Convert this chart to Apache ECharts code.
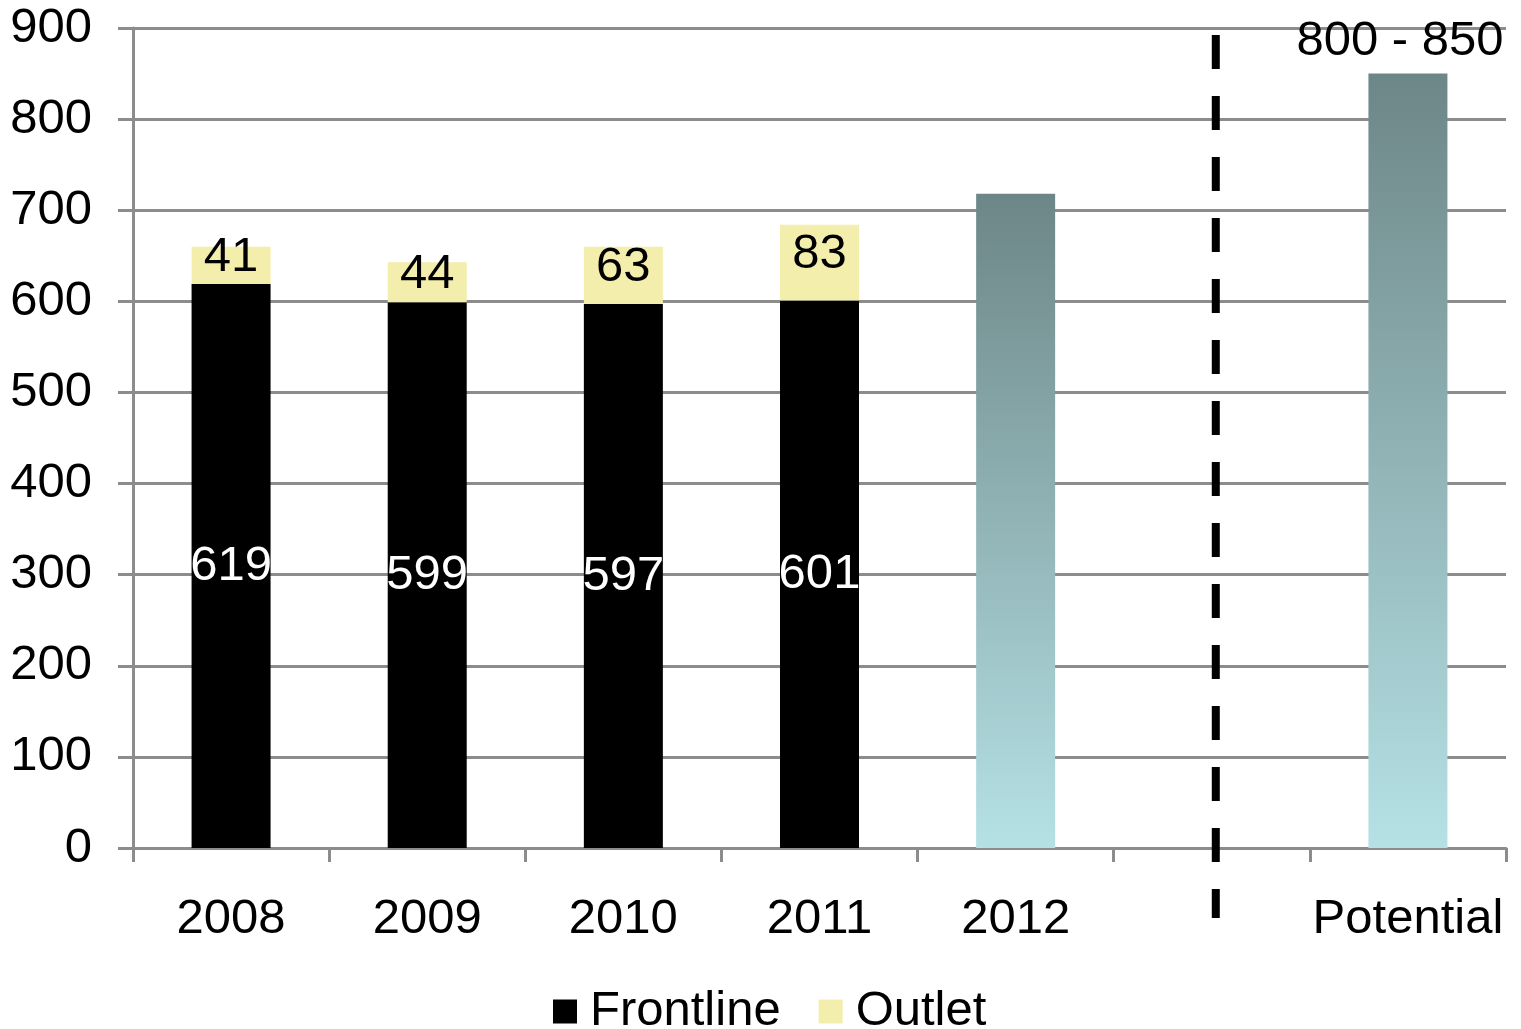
<!DOCTYPE html>
<html>
<head>
<meta charset="utf-8">
<style>html,body{margin:0;padding:0;background:#fff;}#c{width:1521px;height:1029px;}</style>
<script src="https://cdn.jsdelivr.net/npm/echarts@6/dist/echarts.min.js"></script>
</head>
<body>
<div id="c"></div>
<script>
const categories = ['2008', '2009', '2010', '2011', '2012', '', 'Potential'];
const frontline = [619, 599, 597, 601, null, null, null];
const outlet = [41, 44, 63, 83, null, null, null];
const totals = [null, null, null, null, 718, null, 850];
const totalLabels = ['', '', '', '', '', '', '800 - 850'];
const yTicks = [0, 100, 200, 300, 400, 500, 600, 700, 800, 900];

const FONT = 'Liberation Sans, Arial, sans-serif';
const FS = 49;
const chart = echarts.init(document.getElementById('c'));
const grad = new echarts.graphic.LinearGradient(0, 0, 0, 1, [
  { offset: 0, color: '#6d8687' },
  { offset: 1, color: '#b5e1e5' }
]);
chart.setOption({
  animation: false,
  grid: { left: 133, right: 15, top: 28, bottom: 181, containLabel: false },
  legend: {
    data: ['Frontline', 'Outlet'],
    bottom: -12, left: 548,
    icon: 'rect', itemWidth: 24, itemHeight: 24, itemGap: 38,
    textStyle: { fontFamily: FONT, fontSize: FS, color: '#000', padding: [0, 0, 0, 8] }
  },
  xAxis: {
    type: 'category', data: categories,
    axisLine: { lineStyle: { color: '#8c8c8c', width: 3 } },
    axisTick: { show: true, length: 14, alignWithLabel: false, lineStyle: { color: '#8c8c8c', width: 3 } },
    axisLabel: { fontFamily: FONT, fontSize: FS, color: '#000', margin: 47, interval: 0 }
  },
  yAxis: {
    type: 'value', min: yTicks[0], max: yTicks[yTicks.length - 1], interval: 100,
    axisLine: { show: true, lineStyle: { color: '#8c8c8c', width: 3 } },
    axisTick: { show: true, length: 15, lineStyle: { color: '#8c8c8c', width: 3 } },
    splitLine: { lineStyle: { color: '#8c8c8c', width: 3 } },
    axisLabel: { fontFamily: FONT, fontSize: FS, color: '#000', margin: 41 }
  },
  series: [
    {
      name: 'Frontline', type: 'bar', stack: 'a', data: frontline, barWidth: 79,
      itemStyle: { color: '#000' },
      label: { show: true, position: 'inside', color: '#fff', fontFamily: FONT, fontSize: FS }
    },
    {
      name: 'Outlet', type: 'bar', stack: 'a', data: outlet, barWidth: 79,
      itemStyle: { color: '#f3eeab' },
      label: { show: true, position: 'inside', offset: [0, -8], color: '#000', fontFamily: FONT, fontSize: FS }
    },
    {
      name: 'Total', type: 'bar', data: totals, barWidth: 79, barGap: '-100%',
      itemStyle: { color: grad },
      label: {
        show: true, position: 'top', distance: 8, offset: [-8, 0], color: '#000', fontFamily: FONT, fontSize: FS,
        formatter: p => totalLabels[p.dataIndex]
      }
    }
  ]
});
const x = chart.convertToPixel({ xAxisIndex: 0 }, 5) + 4;
const yTop = chart.convertToPixel({ yAxisIndex: 0 }, 900) + 7;
const yBot = chart.convertToPixel({ yAxisIndex: 0 }, 0) + 70;
chart.setOption({
  graphic: [{
    type: 'line', z: 100,
    shape: { x1: x, y1: yTop, x2: x, y2: yBot },
    style: { stroke: '#000', lineWidth: 8, lineDash: [34, 27] }
  }]
});
</script>
</body>
</html>
